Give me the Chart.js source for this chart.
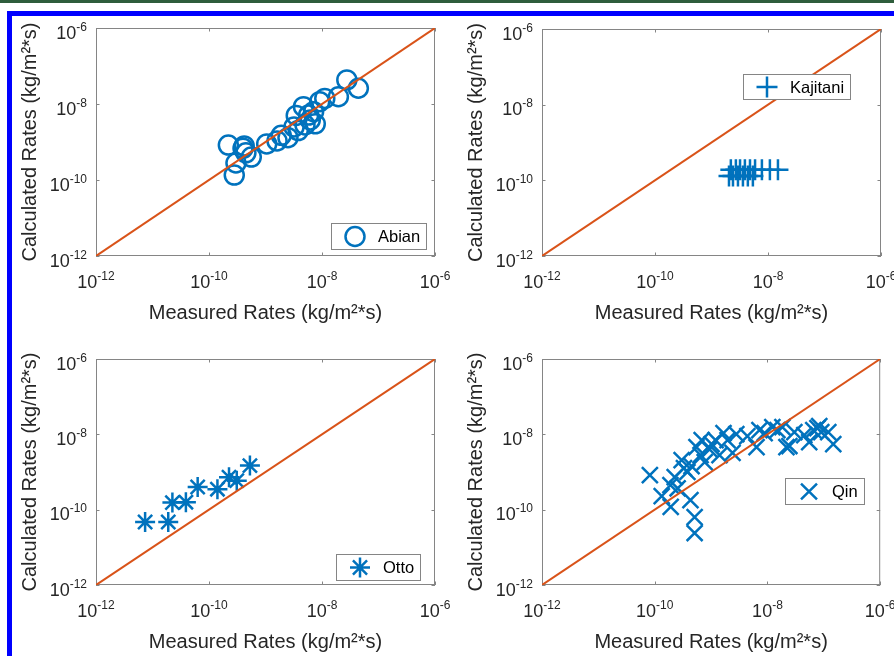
<!DOCTYPE html>
<html>
<head>
<meta charset="utf-8">
<script src="https://cdn.jsdelivr.net/npm/chart.js@4.4.1/dist/chart.umd.min.js"></script>
<style>
  html, body { margin: 0; padding: 0; background: #fff; }
  #page { position: relative; width: 894px; height: 656px; overflow: hidden; background: #fff; }
  .topline { position: absolute; left: 0; top: 0; width: 894px; height: 3px; background: #2f5d3c; }
  .frame { position: absolute; left: 7px; top: 11px; width: 920px; height: 700px; box-sizing: border-box;
           border-left: 5px solid #0000ff; border-top: 5px solid #0000ff; }
  canvas { position: absolute; }
</style>
</head>
<body>
<div id="page">
  <div class="topline"></div>
  <div class="frame"></div>
  <canvas id="pAbian" width="450" height="312" style="left:12px;top:16px"></canvas>
  <canvas id="pKajitani" width="439" height="312" style="left:455px;top:16px"></canvas>
  <canvas id="pOtto" width="450" height="328" style="left:12px;top:328px"></canvas>
  <canvas id="pQin" width="439" height="328" style="left:455px;top:328px"></canvas>
</div>
<script>
// Decade ticks shared by every log-log panel
const decadeTicks = [1e-12, 1e-10, 1e-8, 1e-6];
const tickExponents = ['-12', '-10', '-8', '-6'];
// 1:1 parity line end points
const parityLine = [1e-12, 1e-6];

const xTitle = 'Measured Rates (kg/m²*s)';
const yTitle = 'Calculated Rates (kg/m²*s)';

// Abian
const abianMeasured   = [2.2e-10, 2.8e-10, 3.0e-10, 4.0e-10, 4.5e-10, 4.2e-10, 5.6e-10, 1.05e-9, 1.6e-9, 1.9e-9, 2.5e-9, 3.5e-9, 3.8e-9, 4.7e-9, 5.0e-9, 5.8e-9, 6.2e-9, 7.1e-9, 7.6e-9, 9.1e-9, 1.12e-8, 1.95e-8, 2.75e-8, 4.4e-8, 3.2e-9];
const abianCalculated = [8.3e-10, 1.35e-10, 2.8e-10, 6.8e-10, 5.2e-10, 7.9e-10, 4.0e-10, 8.9e-10, 1.07e-9, 1.5e-9, 1.3e-9, 5.0e-9, 2.0e-9, 8.5e-9, 2.8e-9, 5.1e-9, 3.8e-9, 6.3e-9, 3.0e-9, 1.15e-8, 1.4e-8, 1.55e-8, 4.3e-8, 2.6e-8, 2.5e-9];

// Kajitani
const kajitaniMeasured   = [2.2e-9, 2.7e-9, 3.2e-9, 3.9e-9, 4.8e-9, 5.9e-9, 7.8e-9, 1.08e-8, 1.5e-8, 2.04e-9, 2.4e-9, 2.94e-9, 3.6e-9, 4.4e-9, 5.4e-9];
const kajitaniCalculated = [1.9e-10, 1.9e-10, 1.9e-10, 1.9e-10, 1.9e-10, 1.9e-10, 1.9e-10, 1.9e-10, 1.9e-10, 1.3e-10, 1.3e-10, 1.3e-10, 1.3e-10, 1.3e-10, 1.3e-10];

// Otto
const ottoMeasured   = [7.4e-12, 1.9e-11, 2.25e-11, 3.9e-11, 6.3e-11, 1.41e-10, 2.26e-10, 3.1e-10, 5.3e-10];
const ottoCalculated = [4.7e-11, 4.7e-11, 1.54e-10, 1.58e-10, 4.0e-10, 3.5e-10, 7.3e-10, 5.9e-10, 1.48e-9];

// Qin
const qinMeasured   = [8.2e-11, 1.33e-10, 1.92e-10, 2.26e-10, 2.55e-10, 3.0e-10, 3.8e-10, 4.3e-10, 5.1e-10, 5.1e-10, 5.5e-10, 6.8e-10, 7.7e-10, 9.4e-10, 1.2e-9, 1.41e-9, 1.96e-9, 2.4e-9, 4.4e-9, 6.4e-9, 8.9e-9, 1.5e-8, 2.45e-8, 3.0e-8, 4.5e-8, 5.5e-8, 6.5e-8, 7.7e-8, 9.0e-8, 8.3e-8, 1.47e-7, 1.66e-9, 2.8e-9, 1.22e-8, 1.84e-8, 2.17e-8, 3.3e-10, 1.9e-10, 6.5e-10, 1.02e-9, 4.5e-10, 1.2e-7, 7.2e-9];
const qinCalculated = [8.3e-10, 2.3e-10, 1.18e-10, 7.3e-10, 3.7e-10, 2.07e-9, 1.0e-9, 1.8e-10, 6.3e-11, 2.4e-11, 4.6e-9, 7.0e-9, 1.83e-9, 4.0e-9, 7.0e-9, 2.8e-9, 7.0e-9, 3.2e-9, 9.0e-9, 4.6e-9, 1.07e-8, 1.29e-8, 4.9e-9, 1.14e-8, 9.5e-9, 6.2e-9, 1.29e-8, 1.46e-8, 1.14e-8, 1.65e-8, 5.5e-9, 1.07e-8, 1.01e-8, 1.55e-8, 1.55e-8, 4.6e-9, 1.27e-9, 4.5e-10, 2.8e-9, 5.5e-9, 1.43e-9, 1.14e-8, 1.29e-8];

const BLUE = '#0072BD';
const ORANGE = '#D95319';
const INK = '#262626';
const BOX = '#858585';
const FONT = '"Liberation Sans", Arial, Helvetica, sans-serif';

const pairs = (xs, ys) => xs.map((x, i) => ({ x, y: ys[i] }));

// Marker glyph used by the in-axes legend
function drawMarker(ctx, style, r, x, y) {
  ctx.beginPath();
  if (style === 'circle') {
    ctx.arc(x, y, r, 0, Math.PI * 2);
  } else {
    if (style === 'cross' || style === 'star') {
      ctx.moveTo(x - r, y); ctx.lineTo(x + r, y);
      ctx.moveTo(x, y - r); ctx.lineTo(x, y + r);
    }
    if (style === 'crossRot' || style === 'star') {
      const d = r * Math.SQRT1_2;
      ctx.moveTo(x - d, y - d); ctx.lineTo(x + d, y + d);
      ctx.moveTo(x - d, y + d); ctx.lineTo(x + d, y - d);
    }
  }
  ctx.stroke();
}

// "10" with a raised exponent
function drawPower(ctx, exp, x, baseline, align) {
  ctx.font = '18px ' + FONT;
  const wb = ctx.measureText('10').width;
  ctx.font = '12px ' + FONT;
  const ws = ctx.measureText(exp).width;
  const start = align === 'center' ? x - (wb + ws) / 2 : x - (wb + ws);
  ctx.textAlign = 'left';
  ctx.textBaseline = 'alphabetic';
  ctx.font = '18px ' + FONT;
  ctx.fillText('10', start, baseline);
  ctx.font = '12px ' + FONT;
  ctx.fillText(exp, start + wb, baseline - 8);
}

// Box, inward ticks, tick labels and legend in the style of a boxed log-log axes
const boxedAxes = {
  id: 'boxedAxes',
  beforeDatasetsDraw(chart) {
    const { ctx, chartArea: a, scales: { x, y } } = chart;
    ctx.save();
    ctx.strokeStyle = BOX;
    ctx.lineWidth = 1;
    ctx.strokeRect(a.left + 0.5, a.top + 0.5, a.right - a.left - 1, a.bottom - a.top - 1);
    const len = 3.5;
    ctx.beginPath();
    decadeTicks.forEach(v => {
      const px = Math.round(x.getPixelForValue(v)) + 0.5;
      ctx.moveTo(px, a.bottom); ctx.lineTo(px, a.bottom - len);
      ctx.moveTo(px, a.top); ctx.lineTo(px, a.top + len);
      const py = Math.round(y.getPixelForValue(v)) + 0.5;
      ctx.moveTo(a.left, py); ctx.lineTo(a.left + len, py);
      ctx.moveTo(a.right, py); ctx.lineTo(a.right - len, py);
    });
    ctx.stroke();
    ctx.restore();
  },
  afterDraw(chart, args, opts) {
    const { ctx, chartArea: a, scales: { x, y } } = chart;
    ctx.save();
    ctx.fillStyle = INK;
    decadeTicks.forEach((v, i) => {
      drawPower(ctx, tickExponents[i], x.getPixelForValue(v), a.bottom + 32, 'center');
      drawPower(ctx, tickExponents[i], a.left - 9, y.getPixelForValue(v) + 10.5, 'right');
    });
    // legend box
    const lg = opts.box;
    const bx = a.left + lg.left, by = a.top + lg.top;
    ctx.fillStyle = '#ffffff';
    ctx.fillRect(bx, by, lg.width, lg.height);
    ctx.strokeStyle = BOX;
    ctx.lineWidth = 1;
    ctx.strokeRect(bx + 0.5, by + 0.5, lg.width - 1, lg.height - 1);
    const ds = chart.data.datasets[1];
    ctx.strokeStyle = BLUE;
    ctx.lineWidth = ds.pointBorderWidth;
    drawMarker(ctx, ds.pointStyle, ds.pointRadius, bx + 24, by + lg.height / 2);
    ctx.fillStyle = '#000000';
    ctx.font = '16.5px ' + FONT;
    ctx.textAlign = 'left';
    ctx.textBaseline = 'middle';
    ctx.fillText(ds.label, bx + 47, by + lg.height / 2 + 1);
    ctx.restore();
  }
};

function makePanel(id, name, xs, ys, style, radius, L) {
  return new Chart(document.getElementById(id), {
    type: 'scatter',
    data: {
      datasets: [
        {
          label: 'parity',
          data: pairs(parityLine, parityLine),
          showLine: true,
          borderColor: ORANGE,
          borderWidth: 2,
          pointRadius: 0,
          pointHoverRadius: 0
        },
        {
          label: name,
          data: pairs(xs, ys),
          pointStyle: style,
          pointRadius: radius,
          pointHoverRadius: radius,
          pointBorderColor: BLUE,
          pointBackgroundColor: 'rgba(0,0,0,0)',
          pointBorderWidth: 2.5,
          pointHoverBorderWidth: 2.5
        }
      ]
    },
    options: {
      responsive: false,
      animation: false,
      devicePixelRatio: 1,
      events: [],
      layout: { padding: L.padding },
      plugins: {
        legend: { display: false },
        tooltip: { enabled: false },
        boxedAxes: { box: L.legend }
      },
      scales: {
        x: {
          type: 'logarithmic',
          position: 'bottom',
          min: 1e-12,
          max: 1e-6,
          ticks: { display: false },
          grid: { display: false },
          border: { display: false },
          title: {
            display: true, text: xTitle, color: INK,
            font: { family: FONT, size: 20 },
            padding: { top: 0, bottom: L.xTitlePad }
          },
          afterFit: s => { s.height = L.xHeight; }
        },
        y: {
          type: 'logarithmic',
          position: 'left',
          min: 1e-12,
          max: 1e-6,
          ticks: { display: false },
          grid: { display: false },
          border: { display: false },
          title: {
            display: true, text: yTitle, color: INK,
            font: { family: FONT, size: 20 },
            padding: { top: L.yTitlePad, bottom: 0 }
          },
          afterFit: s => { s.width = L.yWidth; }
        }
      }
    },
    plugins: [boxedAxes]
  });
}

makePanel('pAbian', 'Abian', abianMeasured, abianCalculated, 'circle', 9.5, {
  padding: { left: 0, top: 12, right: 27, bottom: 0 }, yWidth: 84, xHeight: 72, yTitlePad: 6, xTitlePad: 3,
  legend: { left: 235, top: 195, width: 96, height: 27 }
});
makePanel('pKajitani', 'Kajitani', kajitaniMeasured, kajitaniCalculated, 'cross', 10.5, {
  padding: { left: 0, top: 12, right: 13, bottom: 0 }, yWidth: 87, xHeight: 72, yTitlePad: 9, xTitlePad: 3,
  legend: { left: 201, top: 45, width: 108, height: 26 }
});
makePanel('pOtto', 'Otto', ottoMeasured, ottoCalculated, 'star', 10, {
  padding: { left: 0, top: 31, right: 27, bottom: 0 }, yWidth: 84, xHeight: 71, yTitlePad: 6, xTitlePad: 1.5,
  legend: { left: 240, top: 195, width: 85, height: 27 }
});
makePanel('pQin', 'Qin', qinMeasured, qinCalculated, 'crossRot', 11.3, {
  padding: { left: 0, top: 31, right: 13, bottom: 0 }, yWidth: 87, xHeight: 71, yTitlePad: 9, xTitlePad: 1.5,
  legend: { left: 243, top: 119, width: 80, height: 27 }
});
</script>
</body>
</html>
